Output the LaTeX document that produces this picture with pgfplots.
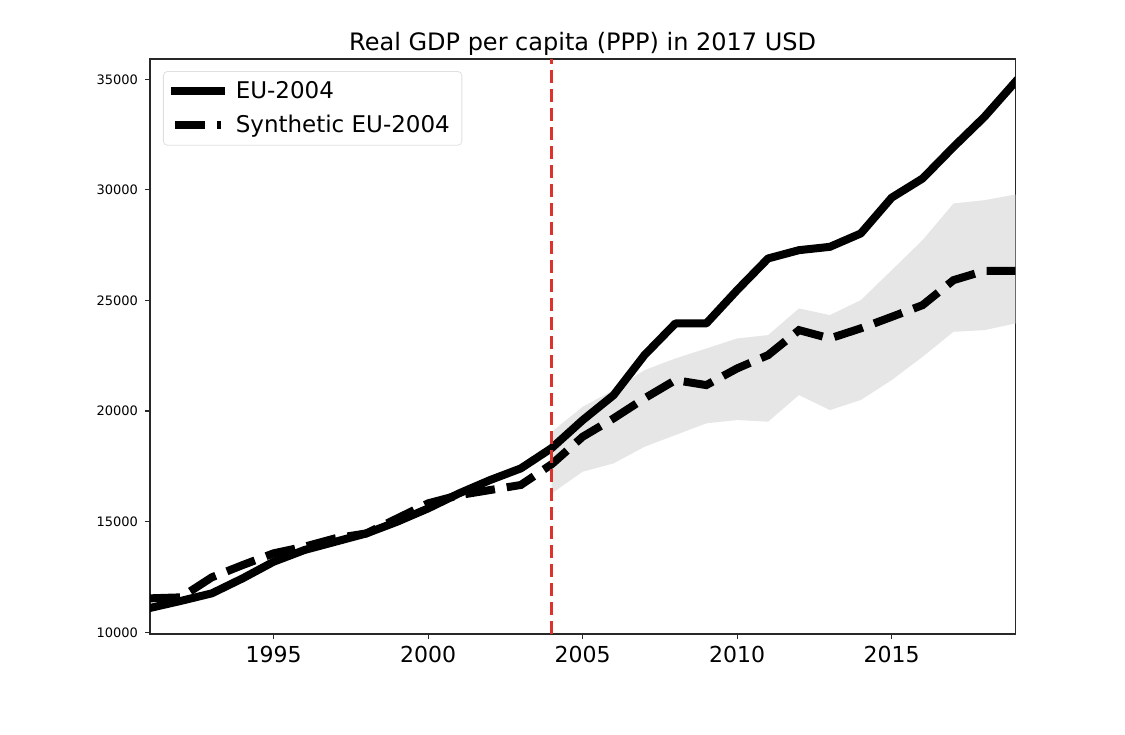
\documentclass[border=0pt]{standalone}
\usepackage{pgfplots}
\pgfplotsset{compat=1.18}
\usepgfplotslibrary{fillbetween}
\usepackage{fontspec}
\setmainfont{DejaVu Sans}
\definecolor{vred}{RGB}{222,50,45}
\definecolor{band}{RGB}{230,230,230}
\definecolor{spine}{RGB}{40,40,40}
\begin{document}
\begin{tikzpicture}
\begin{axis}[
  at={(0,0)}, anchor=south west,
  width=432.65pt, height=287.5pt, scale only axis,
  xmin=1991, xmax=2019, ymin=9923, ymax=35917,
  xtick={1995,2000,2005,2010,2015},
  ytick={10000,15000,20000,25000,30000,35000},
  xticklabel={\fontsize{11}{13}\selectfont\pgfmathprintnumber[assume math mode=true,1000 sep={}]{\tick}},
  yticklabel={\fontsize{6.5}{8}\selectfont\pgfmathprintnumber[assume math mode=true,1000 sep={}]{\tick}},
  scaled y ticks=false,
  tick pos=left, tick align=outside,
  major tick length=2.5pt,
  tick style={spine, line width=0.6pt},
  axis line style={spine, line width=0.7pt},
  title={Real GDP per capita (PPP) in 2017 USD},
  title style={font=\fontsize{12}{14}\selectfont, yshift=-8pt},
  legend style={at={(0.015,0.979)}, anchor=north west, font=\fontsize{11.5}{14}\selectfont,
    draw=black!12, rounded corners=2pt, inner xsep=4pt, inner ysep=2.8pt,
    row sep=3pt, cells={anchor=west}},
  legend image code/.code={\draw[#1] (0pt,0pt) -- (23pt,0pt); \path (26.2pt,0pt);},
]
\addplot[name path=upper, draw=none, forget plot] coordinates {
(2004,19065) (2005,20195) (2006,20950) (2007,21850) (2008,22380) (2009,22830)
(2010,23285) (2011,23435) (2012,24640) (2013,24340) (2014,25015) (2015,26370)
(2016,27730) (2017,29385) (2018,29535) (2019,29790)};
\addplot[name path=lower, draw=none, forget plot] coordinates {
(2004,16280) (2005,17260) (2006,17635) (2007,18385) (2008,18915) (2009,19445)
(2010,19595) (2011,19520) (2012,20725) (2013,20045) (2014,20500) (2015,21400)
(2016,22455) (2017,23585) (2018,23660) (2019,23960)};
\addplot[band, forget plot] fill between[of=upper and lower];
\addplot[black, line width=4pt, line join=round, line cap=rect] coordinates {
(1991,11100) (1992,11420) (1993,11760) (1994,12440) (1995,13190) (1996,13720)
(1997,14095) (1998,14470) (1999,15000) (2000,15600) (2001,16280) (2002,16880)
(2003,17410) (2004,18330) (2005,19590) (2006,20720) (2007,22530) (2008,23960)
(2009,23960) (2010,25470) (2011,26900) (2012,27275) (2013,27425) (2014,28030)
(2015,29650) (2016,30515) (2017,31940) (2018,33300) (2019,34880)};
\addlegendentry{EU-2004}
\addplot[black, line width=4pt, dash pattern=on 15pt off 6pt] coordinates {
(1991,11535) (1992,11580) (1993,12485) (1994,13040) (1995,13570) (1996,13870)
(1997,14250) (1998,14470) (1999,15150) (2000,15830) (2001,16200) (2002,16430)
(2003,16660) (2004,17600) (2005,18840) (2006,19670) (2007,20575) (2008,21400)
(2009,21175) (2010,21930) (2011,22530) (2012,23660) (2013,23285) (2014,23740)
(2015,24260) (2016,24790) (2017,25920) (2018,26340) (2019,26340)};
\addlegendentry{Synthetic EU-2004}
\addplot[vred, line width=1.5pt, dash pattern=on 6.5pt off 3pt, forget plot] coordinates {(2004,9923) (2004,35917)};
\end{axis}
\path (-75pt,-50pt) rectangle (487.5pt,317pt);
\end{tikzpicture}
\end{document}
